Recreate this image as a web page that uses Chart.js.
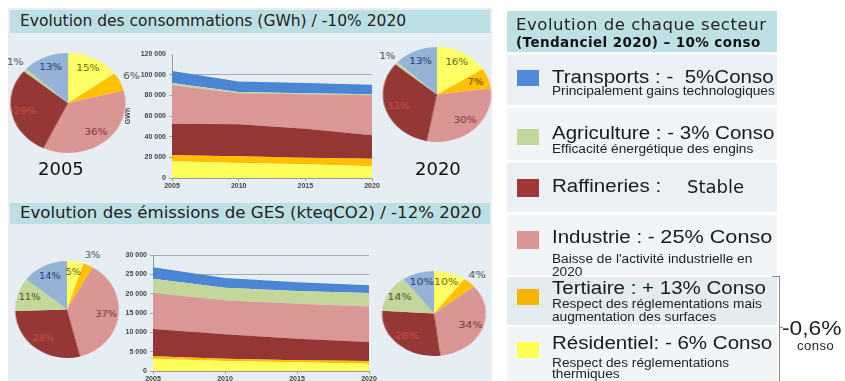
<!DOCTYPE html>
<html lang="fr">
<head>
<meta charset="utf-8">
<script src="https://cdn.jsdelivr.net/npm/chart.js@4.4.1/dist/chart.umd.min.js"></script>
<style>
  html, body { margin: 0; padding: 0; width: 845px; height: 381px; overflow: hidden; background: #fff; }
  body { position: relative; font-family: 'Liberation Sans', Arial, sans-serif; color: #1a1a1a; }
  .abs { position: absolute; white-space: nowrap; }
  .panel { left: 8px; top: 8px; width: 484px; height: 373px; background: #e6eef3; }
  .bar { left: 10px; width: 480px; background: #bcdfe3; }
  .bar span { position: absolute; left: 10px; font-family: 'DejaVu Sans', Verdana, sans-serif; color: #222; }
  .pie { width: 140px; }
  .year { font-family: 'DejaVu Sans', Verdana, sans-serif; font-size: 18px; color: #111; }
  .row { left: 507px; width: 270px; }
  .sw { left: 517px; width: 22px; height: 16px; }
  .main { left: 552px; font-size: 18px; color: #1a1a1a; transform: scaleX(1.14); transform-origin: left center; }
  .sub { left: 552px; font-size: 12px; color: #222; transform: scaleX(1.14); transform-origin: left center; }
</style>
</head>
<body>
<div class="abs panel"></div>
<div class="abs bar" style="top:10px;height:23px;"><span style="top:2px;font-size:15.5px;">Evolution des consommations (GWh) / -10% 2020</span></div>
<div class="abs bar" style="top:203px;height:21px;"><span style="top:0px;font-size:16.6px;">Evolution des émissions de GES (kteqCO2) / -12% 2020</span></div>

<div class="abs pie" id="w1"><canvas id="pie1"></canvas></div>
<div class="abs pie" id="w2"><canvas id="pie2"></canvas></div>
<div class="abs pie" id="w3"><canvas id="pie3"></canvas></div>
<div class="abs pie" id="w4"><canvas id="pie4"></canvas></div>
<div class="abs year" style="left:38px;top:158px;">2005</div>
<div class="abs year" style="left:415px;top:158px;">2020</div>

<div class="abs" style="left:124px;top:40px;width:270px;height:154px;"><canvas id="conso"></canvas></div>
<div class="abs" style="left:110px;top:241px;width:280px;height:144px;"><canvas id="ges"></canvas></div>

<!-- right panel -->
<div class="abs row" style="top:11px;height:41px;background:#bde0e4;"></div>
<div class="abs" style="left:516px;top:15px;font-family:'DejaVu Sans',Verdana,sans-serif;font-size:16.5px;letter-spacing:0.55px;color:#222;">Evolution de chaque secteur</div>
<div class="abs" style="left:516px;top:34px;font-family:'DejaVu Sans',Verdana,sans-serif;font-size:13.5px;letter-spacing:0.4px;font-weight:bold;color:#111;">(Tendanciel 2020) – 10% conso</div>

<div class="abs row" style="top:55px;height:50px;background:#eaf0f4;"></div>
<div class="abs row" style="top:108px;height:52px;background:#f1f5f7;"></div>
<div class="abs row" style="top:163px;height:49px;background:#eaf0f4;"></div>
<div class="abs row" style="top:215px;height:60px;background:#f1f5f7;"></div>
<div class="abs row" style="top:277px;height:48px;background:#e4ecef;"></div>
<div class="abs row" style="top:327px;height:54px;background:#f1f5f7;"></div>

<div class="abs sw" style="top:70px;background:#4f8bd6;"></div>
<div class="abs main" style="top:67px;">Transports : -&nbsp; 5%Conso</div>
<div class="abs sub" style="top:84px;">Principalement gains technologiques</div>

<div class="abs sw" style="top:129px;background:#c4d79b;"></div>
<div class="abs main" style="top:123px;">Agriculture : - 3% Conso</div>
<div class="abs sub" style="top:142px;">Efficacité énergétique des engins</div>

<div class="abs sw" style="top:179px;height:18px;background:#a0363a;"></div>
<div class="abs main" style="top:176px;">Raffineries :</div>
<div class="abs" style="left:687px;top:176px;font-family:'DejaVu Sans',Verdana,sans-serif;font-size:18px;color:#1a1a1a;">Stable</div>

<div class="abs sw" style="top:231px;height:18px;background:#da9694;"></div>
<div class="abs main" style="top:226px;">Industrie : - <span style="font-size:19px;">25% Conso</span></div>
<div class="abs sub" style="top:252px;">Baisse de l'activité industrielle en</div>
<div class="abs sub" style="top:265px;">2020</div>

<div class="abs sw" style="top:289px;background:#f6b400;"></div>
<div class="abs main" style="top:278px;">Tertiaire : + 13% Conso</div>
<div class="abs sub" style="top:297px;">Respect des réglementations mais</div>
<div class="abs sub" style="top:310px;">augmentation des surfaces</div>

<div class="abs sw" style="top:342px;background:#ffff55;"></div>
<div class="abs main" style="top:333px;">Résidentiel: - 6% Conso</div>
<div class="abs sub" style="top:356px;">Respect des réglementations</div>
<div class="abs sub" style="top:367px;">thermiques</div>

<div class="abs" style="left:772px;top:276px;width:7px;height:104px;border-top:1px solid #8a8a8a;border-right:1px solid #8a8a8a;"></div>
<div class="abs" style="left:779px;top:327px;width:4px;border-top:1px solid #8a8a8a;"></div>
<div class="abs" style="left:782px;top:317px;font-size:20px;color:#222;transform:scaleX(1.14);transform-origin:left center;">-0,6%</div>
<div class="abs" style="left:797px;top:338px;font-size:13px;color:#222;letter-spacing:0.5px;">conso</div>

<script>
// sectors, in pie order (clockwise from the top)
const pieSectors = ['Résidentiel', 'Tertiaire', 'Industrie', 'Raffineries', 'Agriculture', 'Transports'];
const consoPie2005 = [15, 6, 36, 29, 1, 13];
const consoPie2020 = [16, 7, 30, 33, 1, 13];
const gesPie2005   = [5, 3, 37, 28, 11, 14];
const gesPie2020   = [10, 4, 34, 28, 14, 10];

// area charts: years and one array per layer (stacked bottom to top)
const years = ['2005', '2010', '2015', '2020'];
const consoResidentiel = [16100, 14500, 13200, 11300];
const consoTertiaire   = [5800, 6500, 6500, 7400];
const consoRaffineries = [30700, 31000, 28000, 22600];
const consoIndustrie   = [37100, 30000, 33300, 38700];
const consoAgriculture = [2300, 1200, 1000, 1000];
const consoTransports  = [11500, 10300, 10000, 9300];

const gesResidentiel = [3200, 2600, 2250, 1900];
const gesTertiaire   = [600, 600, 520, 700];
const gesRaffineries = [7050, 6300, 5600, 4900];
const gesIndustrie   = [9300, 8800, 9050, 9200];
const gesAgriculture = [3700, 3250, 3300, 3450];
const gesTransports  = [3000, 2500, 2250, 2000];

(function () {
    const pieColors   = ['#ffff66', '#ffc000', '#d99694', '#953735', '#c3d69b', '#95b3d7'];
    const labelColors = ['#5b5b16', '#5a4000', '#7b3030', '#d0504a', '#3f4f1f', '#1f3864'];
    const areaColors  = {
        residentiel: '#ffff5c', tertiaire: '#ffbf00', raffineries: '#943634',
        industrie: '#d99795', agriculture: '#c3d69b', transports: '#4a86d3'
    };

    const pieLabels = {
        id: 'pieLabels',
        afterDatasetsDraw(chart, args, opts) {
            const ctx = chart.ctx;
            const values = chart.data.datasets[0].data;
            ctx.save();
            ctx.font = "9px 'DejaVu Sans', sans-serif";
            ctx.textAlign = 'center';
            ctx.textBaseline = 'middle';
            chart.getDatasetMeta(0).data.forEach((arc, i) => {
                const mid = (arc.startAngle + arc.endAngle) / 2;
                const outside = (opts.outside || []).includes(i);
                const r = arc.outerRadius * (outside ? 1.22 : 0.76);
                ctx.fillStyle = outside ? '#444' : labelColors[i];
                ctx.fillText(values[i] + '%', arc.x + Math.cos(mid) * r, arc.y + Math.sin(mid) * r);
            });
            ctx.restore();
        }
    };

    function buildPie(id, wrapId, values, cx, cy, r, sx, outside) {
        const wrap = document.getElementById(wrapId);
        const h = 2 * r + 20;
        wrap.style.left = (cx - 70) + 'px';
        wrap.style.top = (cy - h / 2) + 'px';
        wrap.style.height = h + 'px';
        wrap.style.transform = 'scaleX(' + sx + ')';
        new Chart(document.getElementById(id), {
            type: 'pie',
            data: {
                labels: pieSectors,
                datasets: [{ data: values, backgroundColor: pieColors, borderWidth: 0 }]
            },
            options: {
                responsive: true,
                maintainAspectRatio: false,
                animation: false,
                layout: { padding: 10 },
                plugins: {
                    legend: { display: false },
                    tooltip: { enabled: false },
                    pieLabels: { outside }
                }
            },
            plugins: [pieLabels]
        });
    }

    function spaced(v) {
        return String(v).replace(/\B(?=(\d{3})+(?!\d))/g, ' ');
    }

    function buildArea(id, layers, max, step, opt) {
        const order = ['residentiel', 'tertiaire', 'raffineries', 'industrie', 'agriculture', 'transports'];
        const datasets = order.map((key, i) => ({
            label: key,
            data: layers[key],
            backgroundColor: areaColors[key],
            borderWidth: 0,
            pointRadius: 0,
            fill: i === 0 ? 'origin' : '-1',
            tension: 0
        }));
        new Chart(document.getElementById(id), {
            type: 'line',
            data: { labels: years, datasets },
            options: {
                responsive: true,
                maintainAspectRatio: false,
                animation: false,
                layout: { padding: { top: 14, right: opt.padRight, left: 0, bottom: 0 } },
                plugins: { legend: { display: false }, tooltip: { enabled: false } },
                scales: {
                    x: {
                        offset: false,
                        grid: { drawOnChartArea: false, tickLength: 3, color: '#9a9a9a' },
                        border: { color: '#9a9a9a' },
                        ticks: { color: '#444', font: { family: "'Liberation Sans', sans-serif", size: 7, weight: 'bold' }, padding: 1, maxRotation: 0 },
                        afterFit(s) { s.height = opt.xHeight; }
                    },
                    y: {
                        stacked: true,
                        min: 0,
                        max,
                        ticks: {
                            stepSize: step,
                            color: '#444',
                            padding: 3,
                            font: { family: "'Liberation Sans', sans-serif", size: 7, weight: 'bold' },
                            callback: v => spaced(v)
                        },
                        grid: {
                            tickLength: 3,
                            color: ctx => (opt.hideTop && ctx.tick && ctx.tick.value === max) ? 'rgba(0,0,0,0)' : '#a8a8a8'
                        },
                        border: { color: '#9a9a9a' },
                        title: {
                            display: !!opt.title,
                            text: opt.title || '',
                            color: '#444',
                            font: { size: 7, weight: 'bold' },
                            padding: 0
                        },
                        afterFit(s) { s.width = opt.yWidth; }
                    }
                }
            }
        });
    }

    function build() {
        buildPie('pie1', 'w1', consoPie2005, 67.5, 103, 50, 1.15, [1, 4]);
        buildPie('pie2', 'w2', consoPie2020, 437, 94.5, 47.5, 1.14, [4]);
        buildPie('pie3', 'w3', gesPie2005, 67, 309.5, 48.5, 1.07, [1]);
        buildPie('pie4', 'w4', gesPie2020, 434, 313.5, 42.5, 1.22, [1]);

        buildArea('conso', {
            residentiel: consoResidentiel, tertiaire: consoTertiaire, raffineries: consoRaffineries,
            industrie: consoIndustrie, agriculture: consoAgriculture, transports: consoTransports
        }, 120000, 20000, { yWidth: 48, xHeight: 16, padRight: 22, hideTop: true, title: 'GWh' });

        buildArea('ges', {
            residentiel: gesResidentiel, tertiaire: gesTertiaire, raffineries: gesRaffineries,
            industrie: gesIndustrie, agriculture: gesAgriculture, transports: gesTransports
        }, 30000, 5000, { yWidth: 43, xHeight: 14, padRight: 21, hideTop: false });
    }

    if (document.readyState === 'loading') {
        document.addEventListener('DOMContentLoaded', build);
    } else {
        build();
    }
})();
</script>
</body>
</html>
